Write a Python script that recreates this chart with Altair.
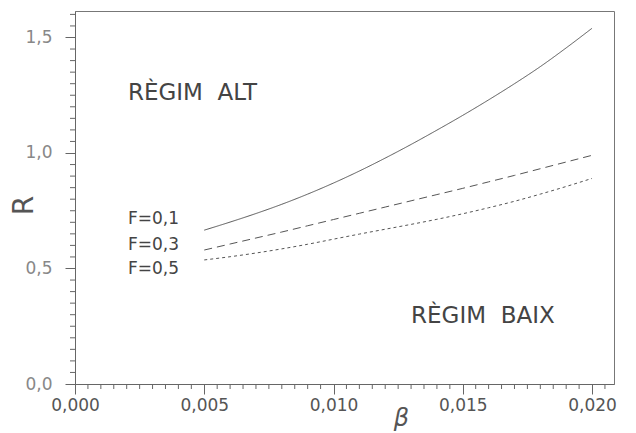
import altair as alt
import pandas as pd

# ---- data ----
beta = [0.005, 0.006, 0.007, 0.008, 0.009, 0.010, 0.011, 0.012,
        0.013, 0.014, 0.015, 0.016, 0.017, 0.018, 0.019, 0.020]
r_f01 = [0.666, 0.701, 0.738, 0.778, 0.822, 0.870, 0.922, 0.978,
         1.037, 1.099, 1.163, 1.230, 1.300, 1.374, 1.455, 1.540]
r_f03 = [0.580, 0.606, 0.632, 0.658, 0.685, 0.712, 0.739, 0.766,
         0.793, 0.820, 0.847, 0.875, 0.903, 0.932, 0.961, 0.990]
r_f05 = [0.537, 0.551, 0.567, 0.585, 0.605, 0.627, 0.649, 0.670,
         0.691, 0.713, 0.737, 0.763, 0.791, 0.822, 0.855, 0.890]
series_names = ["F=0,1", "F=0,3", "F=0,5"]

x_major = [0.0, 0.005, 0.010, 0.015, 0.020]
y_major = [0.0, 0.5, 1.0, 1.5]
x_minor = [round(i * 0.0005, 4) for i in range(0, 42) if i % 10 != 0]
y_minor = [round(i * 0.05, 2) for i in range(0, 33) if i % 10 != 0]

# annotation texts (data coordinates)
ann_text = ["RÈGIM\u00a0\u00a0ALT", "RÈGIM\u00a0\u00a0BAIX"]
ann_x = [0.00205, 0.0130]
ann_y = [1.258, 0.294]
lab_text = series_names
lab_x = [0.00205, 0.00205, 0.00205]
lab_y = [0.714, 0.602, 0.498]

rows = []
for name, vals in zip(series_names, [r_f01, r_f03, r_f05]):
    for b, r in zip(beta, vals):
        rows.append({"beta": b, "R": r, "F": name})
df = pd.DataFrame(rows)
ann = pd.DataFrame({"t": ann_text, "x": ann_x, "y": ann_y})
labs = pd.DataFrame({"t": lab_text, "x": lab_x, "y": lab_y})
xmin_df = pd.DataFrame({"v": x_minor})
ymin_df = pd.DataFrame({"v": y_minor})

FONT = "DejaVu Sans"
W, H = 539, 373
X_DOM = [0, 0.02085]
Y_DOM = [0, 1.6147]
xs = alt.Scale(domain=X_DOM, nice=False, zero=False)
ys = alt.Scale(domain=Y_DOM, nice=False, zero=False)

x_axis = alt.Axis(
    values=x_major,
    labelExpr="replace(format(datum.value, '.3f'), '.', ',')",
    tickSize=10, labelOverlap=False, labelFlush=False,
    labelFont=FONT, labelFontSize=17, labelColor="#555", labelPadding=3,
    tickColor="#666", domainColor="#666", grid=False,
    title="β", titleFont=FONT, titleFontSize=24, titleFontStyle="italic",
    titleFontWeight="normal", titleColor="#555",
    titleX=326, titleY=34, titleBaseline="middle", titleAlign="center",
)
y_axis = alt.Axis(
    values=y_major,
    labelExpr="replace(format(datum.value, '.1f'), '.', ',')",
    tickSize=10, labelOverlap=False, labelFlush=False,
    labelFont=FONT, labelFontSize=17, labelColor="#888", labelPadding=13,
    tickColor="#666", domainColor="#666", grid=False,
    title="R", titleFont=FONT, titleFontSize=28, titleFontWeight="normal",
    titleColor="#555", titleX=-51, titleY=194, titleAngle=270,
    titleBaseline="middle", titleAlign="center",
)

lines = alt.Chart(df).mark_line(strokeWidth=1, color="#555", interpolate="monotone").encode(
    x=alt.X("beta:Q", scale=xs, axis=x_axis),
    y=alt.Y("R:Q", scale=ys, axis=y_axis),
    strokeDash=alt.StrokeDash("F:N", scale=alt.Scale(domain=series_names,
                              range=[[1, 0], [8, 5], [3, 3]]), legend=None),
    detail="F:N",
)

x_minor_ticks = alt.Chart(xmin_df).mark_rule(color="#666", strokeWidth=1, clip=False).encode(
    x=alt.X("v:Q", scale=xs), y=alt.value(H), y2=alt.value(H + 5))
y_minor_ticks = alt.Chart(ymin_df).mark_rule(color="#666", strokeWidth=1, clip=False).encode(
    y=alt.Y("v:Q", scale=ys), x=alt.value(-5), x2=alt.value(0))

big_text = alt.Chart(ann).mark_text(align="left", baseline="middle", font=FONT,
                                    fontSize=23, color="#444").encode(
    x="x:Q", y="y:Q", text="t:N")
small_text = alt.Chart(labs).mark_text(align="left", baseline="middle", font=FONT,
                                       fontSize=17, color="#444").encode(
    x="x:Q", y="y:Q", text="t:N")

chart = alt.layer(lines, x_minor_ticks, y_minor_ticks, big_text, small_text).properties(
    width=W, height=H,
    padding={"left": 75, "top": 11, "right": 22, "bottom": 49},
    autosize=alt.AutoSizeParams(type="none"),
    background="white",
).configure_view(stroke="#777", strokeWidth=1)

chart.save("out.html", embed_options={"renderer": "svg", "actions": False})
